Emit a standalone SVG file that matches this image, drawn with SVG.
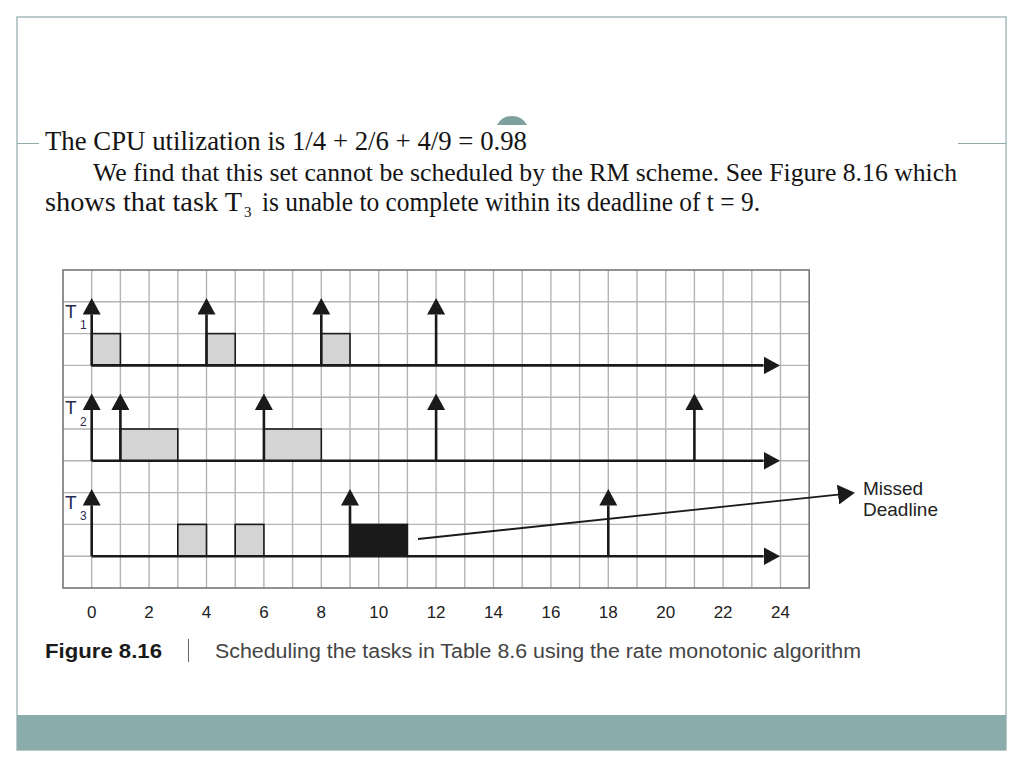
<svg xmlns="http://www.w3.org/2000/svg" width="1024" height="768" viewBox="0 0 1024 768">
<style>
.serif{font-family:"Liberation Serif","Times New Roman",serif;font-size:28px;fill:#141414}
.sans{font-family:"Liberation Sans",Arial,sans-serif}
.ax{font-family:"Liberation Sans",Arial,sans-serif;font-size:17px;fill:#222;text-anchor:middle}
.tl{font-family:"Liberation Sans",Arial,sans-serif;font-size:19px;fill:#2a2a55}
.ts{font-family:"Liberation Sans",Arial,sans-serif;font-size:12px;fill:#2a2a55}
.gl{stroke:#b4b4b4;stroke-width:1.4;fill:none}
.axis{stroke:#1a1a1a;stroke-width:2.6;fill:none}
.rel{stroke:#1a1a1a;stroke-width:2.6;fill:none;marker-end:url(#head)}
.box{fill:#d4d4d4;stroke:#1a1a1a;stroke-width:1.6}
.blk{fill:#1a1a1a;stroke:#1a1a1a;stroke-width:1.6}
</style>
<defs>
<marker id="head" markerUnits="userSpaceOnUse" viewBox="0 0 16.5 18" refX="0" refY="9" markerWidth="16.5" markerHeight="18" orient="auto">
<path d="M0,0 L16.5,9 L0,18 Z" fill="#1a1a1a"/>
</marker>
<marker id="dl" markerUnits="userSpaceOnUse" viewBox="0 0 17 20" refX="0" refY="10" markerWidth="17" markerHeight="20" orient="auto">
<path d="M0,0 L17,10 L0,20 Z" fill="#1a1a1a"/>
</marker>
</defs>
<rect width="1024" height="768" fill="#ffffff"/>
<g id="frame">
<rect x="17" y="17" width="989" height="733" fill="#ffffff" stroke="#8fa9a9" stroke-width="1.2"/>
<rect x="17" y="715" width="989" height="35" fill="#8aacab"/>
<path d="M17,143.5H39 M958,143.5H1006" stroke="#8fa9a9" stroke-width="1.2"/>
<path d="M497,125 A17,17 0 0 1 527,125 Z" fill="#7f9e9e"/>
</g>
<g id="text">
<text class="serif" x="45" y="150" textLength="482" lengthAdjust="spacingAndGlyphs">The CPU utilization is 1/4 + 2/6 + 4/9 = 0.98</text>
<text class="serif" x="93" y="181" textLength="864" lengthAdjust="spacingAndGlyphs" style="font-size:26px">We find that this set cannot be scheduled by the RM scheme. See Figure 8.16 which</text>
<text class="serif" x="45" y="211" textLength="197" lengthAdjust="spacingAndGlyphs">shows that task T</text>
<text class="serif" x="244" y="217" style="font-size:15px">3</text>
<text class="serif" x="262" y="211" textLength="498" lengthAdjust="spacingAndGlyphs">is unable to complete within its deadline of t = 9.</text>
</g>
<g id="chart">
<g id="grid">
<path class="gl" d="M91.7,270V588 M120.4,270V588 M149.1,270V588 M177.8,270V588 M206.5,270V588 M235.2,270V588 M263.9,270V588 M292.6,270V588 M321.3,270V588 M350,270V588 M378.7,270V588 M407.4,270V588 M436.1,270V588 M464.8,270V588 M493.5,270V588 M522.2,270V588 M550.9,270V588 M579.6,270V588 M608.3,270V588 M637,270V588 M665.7,270V588 M694.4,270V588 M723.1,270V588 M751.8,270V588 M780.5,270V588 M63,301.8H809.2 M63,333.6H809.2 M63,365.4H809.2 M63,397.2H809.2 M63,429H809.2 M63,460.8H809.2 M63,492.6H809.2 M63,524.4H809.2 M63,556.2H809.2"/>
<rect x="63" y="270" width="746.2" height="318" fill="none" stroke="#777" stroke-width="1.6"/>
</g>
<g id="task-T1">
<rect class="box" x="91.7" y="333.6" width="28.7" height="31.8"/>
<rect class="box" x="206.5" y="333.6" width="28.7" height="31.8"/>
<rect class="box" x="321.3" y="333.6" width="28.7" height="31.8"/>
<path class="axis" d="M91.7,365.4H763.5" marker-end="url(#head)"/>
<path class="rel" d="M91.7,365.4V314.5"/>
<path class="rel" d="M206.5,365.4V314.5"/>
<path class="rel" d="M321.3,365.4V314.5"/>
<path class="rel" d="M436.1,365.4V314.5"/>
<text class="tl" x="65" y="318">T</text>
<text class="ts" x="80" y="329">1</text>
</g>
<g id="task-T2">
<rect class="box" x="120.4" y="429" width="57.4" height="31.8"/>
<rect class="box" x="263.9" y="429" width="57.4" height="31.8"/>
<path class="axis" d="M91.7,460.8H763.5" marker-end="url(#head)"/>
<path class="rel" d="M91.7,460.8V410"/>
<path class="rel" d="M120.4,460.8V410"/>
<path class="rel" d="M263.9,460.8V410"/>
<path class="rel" d="M436.1,460.8V410"/>
<path class="rel" d="M694.4,460.8V410"/>
<text class="tl" x="65" y="414">T</text>
<text class="ts" x="80" y="426">2</text>
</g>
<g id="task-T3">
<rect class="box" x="177.8" y="524.4" width="28.7" height="31.8"/>
<rect class="box" x="235.2" y="524.4" width="28.7" height="31.8"/>
<rect class="blk" x="350" y="524.4" width="57.4" height="31.8"/>
<path class="axis" d="M91.7,556.2H763.5" marker-end="url(#head)"/>
<path class="rel" d="M91.7,556.2V505.5"/>
<path class="rel" d="M350,556.2V505.5"/>
<path class="rel" d="M608.3,556.2V505.5"/>
<text class="tl" x="65" y="509">T</text>
<text class="ts" x="80" y="520">3</text>
</g>
<g id="axis-labels">
<text class="ax" x="91.7" y="618">0</text>
<text class="ax" x="149.1" y="618">2</text>
<text class="ax" x="206.5" y="618">4</text>
<text class="ax" x="263.9" y="618">6</text>
<text class="ax" x="321.3" y="618">8</text>
<text class="ax" x="378.7" y="618">10</text>
<text class="ax" x="436.1" y="618">12</text>
<text class="ax" x="493.5" y="618">14</text>
<text class="ax" x="550.9" y="618">16</text>
<text class="ax" x="608.3" y="618">18</text>
<text class="ax" x="665.7" y="618">20</text>
<text class="ax" x="723.1" y="618">22</text>
<text class="ax" x="780.5" y="618">24</text>
</g>
</g>
<g id="connectors">
<path d="M418,539 L838,494.6" stroke="#1a1a1a" stroke-width="1.8" fill="none" marker-end="url(#dl)"/>
</g>
<g id="missed-deadline">
<text class="sans" x="863" y="495" style="font-size:19px;fill:#222">Missed</text>
<text class="sans" x="863" y="516" style="font-size:19px;fill:#222">Deadline</text>
</g>
<g id="caption">
<text class="sans" x="45" y="658" textLength="117" lengthAdjust="spacingAndGlyphs" style="font-size:20px;font-weight:bold;fill:#1a1a1a">Figure 8.16</text>
<path d="M188.5,639V662" stroke="#666" stroke-width="1"/>
<text class="sans" x="215" y="658" textLength="646" lengthAdjust="spacingAndGlyphs" style="font-size:20px;fill:#444">Scheduling the tasks in Table 8.6 using the rate monotonic algorithm</text>
</g>
</svg>
